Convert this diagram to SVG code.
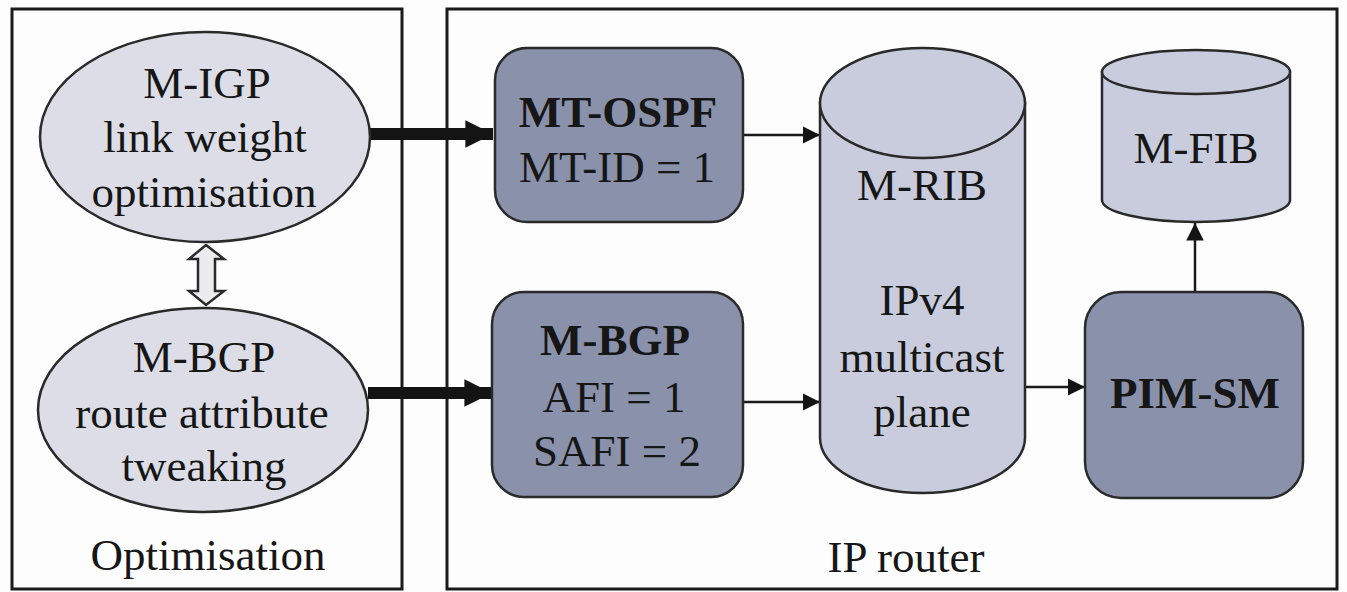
<svg xmlns="http://www.w3.org/2000/svg" width="1347" height="592" viewBox="0 0 1347 592">
  <defs>
    <style>
      .frame { fill: none; stroke: #1a1a1a; stroke-width: 3; }
      .oval { fill: #dcdde6; stroke: #2a2a2a; stroke-width: 2.5; }
      .proto { fill: #8a91ab; stroke: #2a2a2a; stroke-width: 2.5; }
      .store { fill: #c8ccdc; stroke: #2a2a2a; stroke-width: 2.5; }
      .t { font-family: "Liberation Serif", "Times New Roman", serif; font-size: 45px; fill: #161616; text-anchor: middle; }
      .b { font-weight: bold; }
      .thin { fill: none; stroke: #1a1a1a; stroke-width: 2.5; }
      .thick { fill: none; stroke: #141414; stroke-width: 12; }
    </style>
    <marker id="head" viewBox="0 0 10 10" refX="10" refY="5" markerWidth="7" markerHeight="7" markerUnits="strokeWidth" orient="auto">
      <path d="M0,0 L10,5 L0,10 z" fill="#141414"/>
    </marker>
    <marker id="bighead" viewBox="0 0 10 10" refX="10" refY="5" markerWidth="2.7" markerHeight="2.3" markerUnits="strokeWidth" orient="auto">
      <path d="M0,0 L10,5 L0,10 z" fill="#141414"/>
    </marker>
  </defs>

  <rect x="0" y="0" width="1347" height="592" fill="#fdfdfd"/>

  <!-- containers -->
  <g id="optimisation">
    <rect class="frame" x="12" y="9" width="390" height="580"/>
    <text class="t" x="208" y="570">Optimisation</text>
  </g>
  <g id="ip-router">
    <rect class="frame" x="447" y="9" width="890" height="580"/>
    <text class="t" x="906" y="572">IP router</text>
  </g>

  <!-- connectors -->
  <g id="connectors">
    <line class="thick" x1="370" y1="134" x2="493" y2="134" marker-end="url(#bighead)"/>
    <line class="thick" x1="368" y1="393" x2="492" y2="393" marker-end="url(#bighead)"/>
    <line class="thin" x1="743" y1="135" x2="820" y2="135" marker-end="url(#head)"/>
    <line class="thin" x1="743" y1="402" x2="820" y2="402" marker-end="url(#head)"/>
    <line class="thin" x1="1025" y1="387" x2="1085" y2="387" marker-end="url(#head)"/>
    <line class="thin" x1="1195" y1="292" x2="1195" y2="223" marker-end="url(#head)"/>
    <!-- hollow double arrow between the two optimisation methods -->
    <path d="M206,245 L224,259 L215,259 L215,291 L224,291 L206,305 L189,291 L198,291 L198,259 L189,259 Z" fill="#ececf0" stroke="#2a2a2a" stroke-width="2.5" stroke-linejoin="miter"/>
  </g>

  <!-- optimisation nodes -->
  <g id="migp">
    <ellipse class="oval" cx="205" cy="137" rx="165" ry="105"/>
    <text class="t" x="207" y="98">M-IGP</text>
    <text class="t" x="205" y="152">link weight</text>
    <text class="t" x="204" y="207">optimisation</text>
  </g>
  <g id="mbgp-opt">
    <ellipse class="oval" cx="203" cy="410" rx="165" ry="102"/>
    <text class="t" x="204" y="372">M-BGP</text>
    <text class="t" x="202" y="428">route attribute</text>
    <text class="t" x="204" y="481">tweaking</text>
  </g>

  <!-- routing protocols -->
  <g id="mt-ospf">
    <rect class="proto" x="495" y="48" width="248" height="174" rx="32" ry="32"/>
    <text class="t b" x="618" y="127">MT-OSPF</text>
    <text class="t" x="617" y="182">MT-ID = 1</text>
  </g>
  <g id="mbgp">
    <rect class="proto" x="492" y="292" width="251" height="205" rx="32" ry="32"/>
    <text class="t b" x="615" y="355">M-BGP</text>
    <text class="t" x="614" y="412">AFI = 1</text>
    <text class="t" x="617" y="466">SAFI = 2</text>
  </g>

  <!-- multicast RIB -->
  <g id="mrib">
    <path class="store" d="M820,103 L820,438 A102.5,55 0 0 0 1025,438 L1025,103 Z"/>
    <ellipse class="store" cx="922.5" cy="103" rx="102.5" ry="55"/>
    <text class="t" x="922" y="200">M-RIB</text>
    <text class="t" x="922" y="315">IPv4</text>
    <text class="t" x="922" y="372">multicast</text>
    <text class="t" x="922" y="427">plane</text>
  </g>

  <!-- multicast FIB -->
  <g id="mfib">
    <path class="store" d="M1102,72 L1102,200 A94,22 0 0 0 1290,200 L1290,72 Z"/>
    <ellipse class="store" cx="1196" cy="72" rx="94" ry="22"/>
    <text class="t" x="1196" y="163">M-FIB</text>
  </g>

  <!-- PIM-SM -->
  <g id="pim-sm">
    <rect class="proto" x="1085" y="292" width="218" height="206" rx="36" ry="36"/>
    <text class="t b" x="1195" y="408">PIM-SM</text>
  </g>
</svg>
